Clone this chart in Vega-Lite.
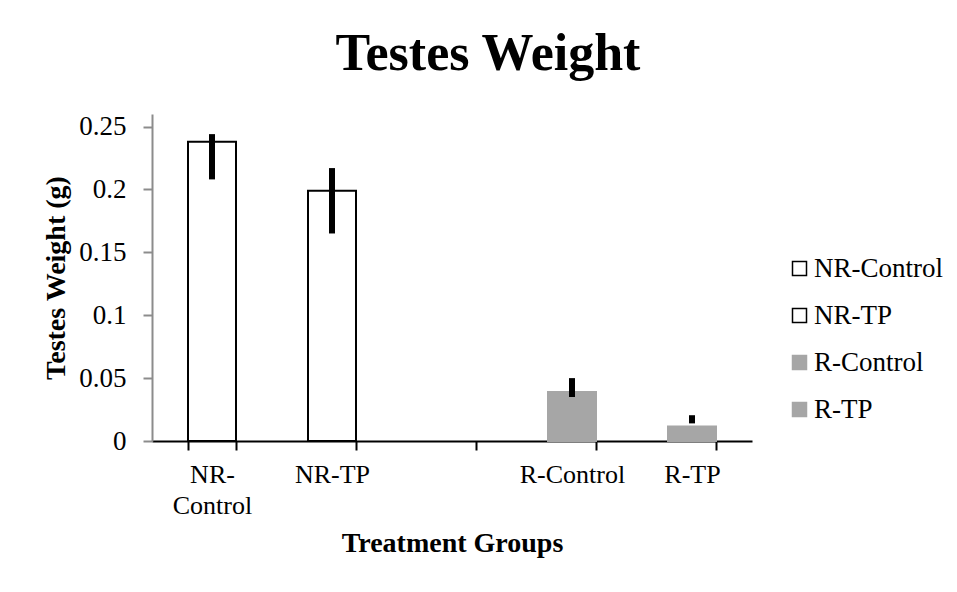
{
  "$schema": "https://vega.github.io/schema/vega-lite/v6.json",
  "autosize": "none",
  "width": 600,
  "height": 327,
  "padding": {"left": 152, "top": 114, "right": 205, "bottom": 151},
  "background": "white",
  "title": {
    "text": "Testes Weight",
    "font": "Liberation Serif",
    "fontSize": 52,
    "fontWeight": "bold",
    "color": "black",
    "anchor": "middle",
    "dx": 36,
    "offset": 32
  },
  "config": {
    "view": {"stroke": null},
    "font": "Liberation Serif"
  },
  "data": {
    "values": [
      {"group": "NR-Control", "mean": 0.238, "low": 0.208, "high": 0.244},
      {"group": "NR-TP", "mean": 0.199, "low": 0.165, "high": 0.217},
      {"group": "R-Control", "mean": 0.039, "low": 0.035, "high": 0.050},
      {"group": "R-TP", "mean": 0.0115, "low": 0.014, "high": 0.0205}
    ]
  },
  "encoding": {
    "x": {
      "field": "group",
      "type": "nominal",
      "scale": {
        "domain": ["NR-Control", "NR-TP", "gap", "R-Control", "R-TP"],
        "paddingInner": 0.6,
        "paddingOuter": 0.3
      },
      "axis": {
        "title": "Treatment Groups",
        "titleFont": "Liberation Serif",
        "titleFontSize": 28,
        "titleFontWeight": "bold",
        "titleColor": "black",
        "titlePadding": 11,
        "labelAngle": 0,
        "labelFont": "Liberation Serif",
        "labelFontSize": 26,
        "labelColor": "black",
        "labelLineHeight": 31,
        "labelPadding": 11,
        "labelExpr": "datum.value == 'gap' ? '' : datum.value == 'NR-Control' ? ['NR-', 'Control'] : datum.value",
        "tickBand": "extent",
        "tickSize": 9,
        "tickColor": "black",
        "tickWidth": 2,
        "domainColor": "black",
        "domainWidth": 2
      }
    }
  },
  "layer": [
    {
      "mark": {"type": "bar", "strokeWidth": 2},
      "encoding": {
        "y": {
          "field": "mean",
          "type": "quantitative",
          "scale": {"domain": [0, 0.25]},
          "axis": {
            "title": "Testes Weight (g)",
            "titleFont": "Liberation Serif",
            "titleFontSize": 28,
            "titleFontWeight": "bold",
            "titleColor": "black",
            "titlePadding": 8,
            "values": [0, 0.05, 0.1, 0.15, 0.2, 0.25],
            "format": ".2~f",
            "labelFont": "Liberation Serif",
            "labelFontSize": 27,
            "labelColor": "black",
            "labelPadding": 17,
            "tickSize": 9,
            "tickColor": "#8c8c8c",
            "tickWidth": 2,
            "domainColor": "#8c8c8c",
            "domainWidth": 2,
            "grid": false
          }
        },
        "fill": {
          "field": "group",
          "type": "nominal",
          "scale": {
            "domain": ["NR-Control", "NR-TP", "R-Control", "R-TP"],
            "range": ["white", "white", "#a6a6a6", "#a6a6a6"]
          },
          "legend": {
            "title": null,
            "orient": "none",
            "legendX": 634,
            "legendY": 141,
            "symbolType": "square",
            "symbolSize": 196,
            "symbolStrokeWidth": 1.5,
            "labelFont": "Liberation Serif",
            "labelFontSize": 27,
            "labelColor": "black",
            "labelOffset": 1,
            "rowPadding": 19
          }
        },
        "stroke": {
          "field": "group",
          "type": "nominal",
          "scale": {
            "domain": ["NR-Control", "NR-TP", "R-Control", "R-TP"],
            "range": ["black", "black", "#a6a6a6", "#a6a6a6"]
          },
          "legend": {
            "title": null,
            "orient": "none",
            "legendX": 634,
            "legendY": 141,
            "symbolType": "square",
            "symbolSize": 196,
            "symbolStrokeWidth": 1.5,
            "labelFont": "Liberation Serif",
            "labelFontSize": 27,
            "labelColor": "black",
            "labelOffset": 1,
            "rowPadding": 19
          }
        }
      }
    },
    {
      "mark": {"type": "rule", "color": "black", "strokeWidth": 6},
      "encoding": {
        "y": {"field": "low", "type": "quantitative"},
        "y2": {"field": "high"}
      }
    }
  ]
}
